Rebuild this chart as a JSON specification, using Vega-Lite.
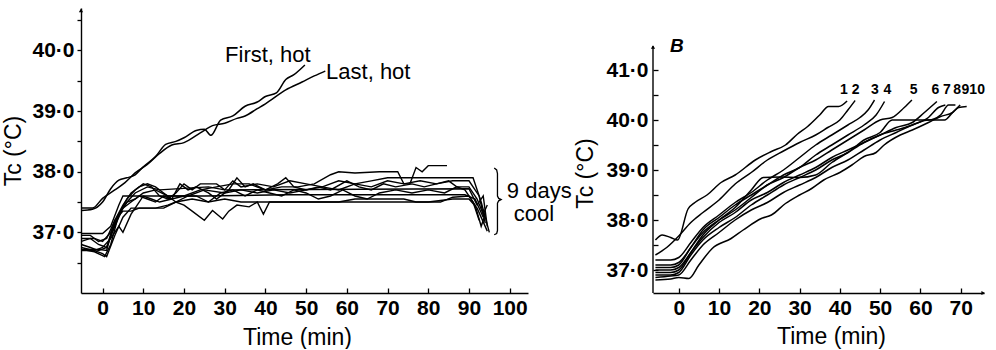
{
  "$schema": "https://vega.github.io/schema/vega-lite/v6.json",
  "padding": {"left": 2, "top": 8, "right": 0, "bottom": 0},
  "background": "white",
  "config": {
    "view": {"stroke": null},
    "font": "Liberation Sans",
    "axis": {"grid": false, "domainColor": "black", "domainWidth": 1.4, "tickColor": "black", "tickWidth": 1.3, "labelColor": "black", "labelFont": "Liberation Sans", "labelFontSize": 21, "labelFontWeight": "bold", "titleFont": "Liberation Sans", "titleFontSize": 23, "titleFontWeight": "normal", "titleColor": "black"},
    "concat": {"spacing": 125},
    "text": {"font": "Liberation Sans", "color": "black"}
  },
  "bounds": "flush",
  "datasets": {
    "hot": [
      {"s": "First", "t": -5.2, "y": 37.36}, {"s": "First", "t": -2.5, "y": 37.38}, {"s": "First", "t": 0, "y": 37.5}, {"s": "First", "t": 2, "y": 37.72}, {"s": "First", "t": 4, "y": 37.86}, {"s": "First", "t": 6, "y": 37.9}, {"s": "First", "t": 8, "y": 37.95}, {"s": "First", "t": 10, "y": 38.08}, {"s": "First", "t": 13, "y": 38.25}, {"s": "First", "t": 15.5, "y": 38.45}, {"s": "First", "t": 18, "y": 38.5}, {"s": "First", "t": 20, "y": 38.56}, {"s": "First", "t": 23, "y": 38.68}, {"s": "First", "t": 25, "y": 38.7}, {"s": "First", "t": 26.6, "y": 38.6}, {"s": "First", "t": 29, "y": 38.85}, {"s": "First", "t": 32, "y": 38.92}, {"s": "First", "t": 35, "y": 39.08}, {"s": "First", "t": 38, "y": 39.15}, {"s": "First", "t": 40, "y": 39.24}, {"s": "First", "t": 42.7, "y": 39.3}, {"s": "First", "t": 45, "y": 39.52}, {"s": "First", "t": 47, "y": 39.6}, {"s": "First", "t": 49.7, "y": 39.76},
      {"s": "Last", "t": -5.2, "y": 37.4}, {"s": "Last", "t": -2.5, "y": 37.4}, {"s": "Last", "t": 0, "y": 37.56}, {"s": "Last", "t": 3, "y": 37.7}, {"s": "Last", "t": 5.5, "y": 37.82}, {"s": "Last", "t": 8, "y": 37.98}, {"s": "Last", "t": 11, "y": 38.12}, {"s": "Last", "t": 14, "y": 38.3}, {"s": "Last", "t": 17, "y": 38.44}, {"s": "Last", "t": 20, "y": 38.48}, {"s": "Last", "t": 24, "y": 38.64}, {"s": "Last", "t": 27, "y": 38.76}, {"s": "Last", "t": 30, "y": 38.8}, {"s": "Last", "t": 33, "y": 38.88}, {"s": "Last", "t": 35, "y": 38.92}, {"s": "Last", "t": 38, "y": 39.04}, {"s": "Last", "t": 40, "y": 39.12}, {"s": "Last", "t": 45, "y": 39.35}, {"s": "Last", "t": 49, "y": 39.48}, {"s": "Last", "t": 52, "y": 39.58}, {"s": "Last", "t": 54.7, "y": 39.66}
    ],
    "cool": [
      {"s": "C1", "t": -5.2, "y": 36.98}, {"s": "C1", "t": -2, "y": 36.98}, {"s": "C1", "t": 0, "y": 36.98}, {"s": "C1", "t": 2, "y": 37.1}, {"s": "C1", "t": 4, "y": 37.45}, {"s": "C1", "t": 5, "y": 37.6}, {"s": "C1", "t": 25, "y": 37.6}, {"s": "C1", "t": 45, "y": 37.62}, {"s": "C1", "t": 70, "y": 37.62}, {"s": "C1", "t": 89, "y": 37.62}, {"s": "C1", "t": 91.5, "y": 37.55}, {"s": "C1", "t": 93.5, "y": 37.25},
      {"s": "C2", "t": -5.2, "y": 36.8}, {"s": "C2", "t": -3, "y": 36.75}, {"s": "C2", "t": -1, "y": 36.7}, {"s": "C2", "t": 1, "y": 36.75}, {"s": "C2", "t": 3, "y": 37.2}, {"s": "C2", "t": 5, "y": 37.35}, {"s": "C2", "t": 7, "y": 37.35}, {"s": "C2", "t": 9, "y": 37.4}, {"s": "C2", "t": 13, "y": 37.4}, {"s": "C2", "t": 16, "y": 37.45}, {"s": "C2", "t": 18, "y": 37.5}, {"s": "C2", "t": 20, "y": 37.45}, {"s": "C2", "t": 22, "y": 37.35}, {"s": "C2", "t": 25, "y": 37.2}, {"s": "C2", "t": 27, "y": 37.36}, {"s": "C2", "t": 29.5, "y": 37.22}, {"s": "C2", "t": 31, "y": 37.35}, {"s": "C2", "t": 33, "y": 37.45}, {"s": "C2", "t": 36, "y": 37.42}, {"s": "C2", "t": 38, "y": 37.5}, {"s": "C2", "t": 39.5, "y": 37.3}, {"s": "C2", "t": 41, "y": 37.5}, {"s": "C2", "t": 50, "y": 37.5}, {"s": "C2", "t": 60, "y": 37.5}, {"s": "C2", "t": 70, "y": 37.5}, {"s": "C2", "t": 80, "y": 37.5}, {"s": "C2", "t": 86, "y": 37.55}, {"s": "C2", "t": 90, "y": 37.55}, {"s": "C2", "t": 92, "y": 37.4}, {"s": "C2", "t": 94.5, "y": 37.02},
      {"s": "C3", "t": -5.2, "y": 36.72}, {"s": "C3", "t": -2, "y": 36.68}, {"s": "C3", "t": 0.5, "y": 36.6}, {"s": "C3", "t": 2, "y": 36.8}, {"s": "C3", "t": 4, "y": 37.3}, {"s": "C3", "t": 6, "y": 37.55}, {"s": "C3", "t": 8, "y": 37.7}, {"s": "C3", "t": 10, "y": 37.8}, {"s": "C3", "t": 12, "y": 37.75}, {"s": "C3", "t": 14, "y": 37.6}, {"s": "C3", "t": 16, "y": 37.55}, {"s": "C3", "t": 18, "y": 37.65}, {"s": "C3", "t": 20, "y": 37.8}, {"s": "C3", "t": 22, "y": 37.7}, {"s": "C3", "t": 24, "y": 37.8}, {"s": "C3", "t": 28, "y": 37.8}, {"s": "C3", "t": 30, "y": 37.7}, {"s": "C3", "t": 32, "y": 37.85}, {"s": "C3", "t": 34, "y": 37.75}, {"s": "C3", "t": 38, "y": 37.8}, {"s": "C3", "t": 42, "y": 37.75}, {"s": "C3", "t": 46, "y": 37.85}, {"s": "C3", "t": 50, "y": 37.8}, {"s": "C3", "t": 54, "y": 37.75}, {"s": "C3", "t": 58, "y": 37.85}, {"s": "C3", "t": 62, "y": 37.8}, {"s": "C3", "t": 66, "y": 37.75}, {"s": "C3", "t": 70, "y": 37.85}, {"s": "C3", "t": 74, "y": 37.8}, {"s": "C3", "t": 78, "y": 37.85}, {"s": "C3", "t": 82, "y": 37.8}, {"s": "C3", "t": 86, "y": 37.85}, {"s": "C3", "t": 90, "y": 37.85}, {"s": "C3", "t": 92.5, "y": 37.6}, {"s": "C3", "t": 94, "y": 37.15},
      {"s": "C4", "t": -5.2, "y": 36.9}, {"s": "C4", "t": -2, "y": 36.9}, {"s": "C4", "t": 0, "y": 36.85}, {"s": "C4", "t": 2, "y": 37.0}, {"s": "C4", "t": 4, "y": 37.3}, {"s": "C4", "t": 6, "y": 37.5}, {"s": "C4", "t": 8, "y": 37.55}, {"s": "C4", "t": 10, "y": 37.65}, {"s": "C4", "t": 13, "y": 37.7}, {"s": "C4", "t": 16, "y": 37.6}, {"s": "C4", "t": 20, "y": 37.6}, {"s": "C4", "t": 24, "y": 37.7}, {"s": "C4", "t": 28, "y": 37.75}, {"s": "C4", "t": 32, "y": 37.8}, {"s": "C4", "t": 36, "y": 37.8}, {"s": "C4", "t": 40, "y": 37.7}, {"s": "C4", "t": 44, "y": 37.75}, {"s": "C4", "t": 48, "y": 37.75}, {"s": "C4", "t": 52, "y": 37.8}, {"s": "C4", "t": 56, "y": 37.95}, {"s": "C4", "t": 58, "y": 38.0}, {"s": "C4", "t": 62, "y": 37.98}, {"s": "C4", "t": 68, "y": 38.0}, {"s": "C4", "t": 72.5, "y": 38.0}, {"s": "C4", "t": 74, "y": 37.8}, {"s": "C4", "t": 75.5, "y": 37.8}, {"s": "C4", "t": 77, "y": 38.07}, {"s": "C4", "t": 78.5, "y": 38.0}, {"s": "C4", "t": 80, "y": 38.1}, {"s": "C4", "t": 84.6, "y": 38.1},
      {"s": "C5", "t": -5.2, "y": 36.95}, {"s": "C5", "t": -3, "y": 36.95}, {"s": "C5", "t": -1, "y": 36.85}, {"s": "C5", "t": 1, "y": 36.9}, {"s": "C5", "t": 3, "y": 37.2}, {"s": "C5", "t": 5, "y": 37.45}, {"s": "C5", "t": 7, "y": 37.65}, {"s": "C5", "t": 9, "y": 37.75}, {"s": "C5", "t": 11, "y": 37.8}, {"s": "C5", "t": 13, "y": 37.75}, {"s": "C5", "t": 15, "y": 37.65}, {"s": "C5", "t": 18, "y": 37.5}, {"s": "C5", "t": 21, "y": 37.6}, {"s": "C5", "t": 25, "y": 37.7}, {"s": "C5", "t": 30, "y": 37.65}, {"s": "C5", "t": 34, "y": 37.7}, {"s": "C5", "t": 38, "y": 37.65}, {"s": "C5", "t": 42, "y": 37.7}, {"s": "C5", "t": 46, "y": 37.65}, {"s": "C5", "t": 50, "y": 37.7}, {"s": "C5", "t": 54, "y": 37.75}, {"s": "C5", "t": 58, "y": 37.7}, {"s": "C5", "t": 62, "y": 37.8}, {"s": "C5", "t": 66, "y": 37.85}, {"s": "C5", "t": 70, "y": 37.9}, {"s": "C5", "t": 80, "y": 37.9}, {"s": "C5", "t": 91, "y": 37.9}, {"s": "C5", "t": 93, "y": 37.5}, {"s": "C5", "t": 95, "y": 37.0},
      {"s": "C6", "t": -5.2, "y": 36.85}, {"s": "C6", "t": -3, "y": 36.9}, {"s": "C6", "t": -1, "y": 36.8}, {"s": "C6", "t": 1, "y": 36.75}, {"s": "C6", "t": 3, "y": 37.1}, {"s": "C6", "t": 5, "y": 37.4}, {"s": "C6", "t": 7, "y": 37.5}, {"s": "C6", "t": 9, "y": 37.6}, {"s": "C6", "t": 11, "y": 37.55}, {"s": "C6", "t": 13, "y": 37.5}, {"s": "C6", "t": 15, "y": 37.6}, {"s": "C6", "t": 17, "y": 37.55}, {"s": "C6", "t": 19, "y": 37.8}, {"s": "C6", "t": 21, "y": 37.7}, {"s": "C6", "t": 23, "y": 37.75}, {"s": "C6", "t": 26, "y": 37.65}, {"s": "C6", "t": 28, "y": 37.55}, {"s": "C6", "t": 31, "y": 37.7}, {"s": "C6", "t": 33, "y": 37.9}, {"s": "C6", "t": 35, "y": 37.75}, {"s": "C6", "t": 37, "y": 37.8}, {"s": "C6", "t": 40, "y": 37.7}, {"s": "C6", "t": 43, "y": 37.8}, {"s": "C6", "t": 45, "y": 37.9}, {"s": "C6", "t": 47, "y": 37.75}, {"s": "C6", "t": 50, "y": 37.7}, {"s": "C6", "t": 53, "y": 37.75}, {"s": "C6", "t": 56, "y": 37.7}, {"s": "C6", "t": 60, "y": 37.85}, {"s": "C6", "t": 63, "y": 37.75}, {"s": "C6", "t": 66, "y": 37.7}, {"s": "C6", "t": 69, "y": 37.8}, {"s": "C6", "t": 72, "y": 37.75}, {"s": "C6", "t": 76, "y": 37.8}, {"s": "C6", "t": 79, "y": 37.75}, {"s": "C6", "t": 82, "y": 37.8}, {"s": "C6", "t": 85, "y": 37.85}, {"s": "C6", "t": 87, "y": 37.75}, {"s": "C6", "t": 90, "y": 37.75}, {"s": "C6", "t": 92, "y": 37.55}, {"s": "C6", "t": 93.5, "y": 37.3}, {"s": "C6", "t": 94.5, "y": 37.45},
      {"s": "C7", "t": -5.2, "y": 36.7}, {"s": "C7", "t": -2, "y": 36.7}, {"s": "C7", "t": 0, "y": 36.75}, {"s": "C7", "t": 2, "y": 36.9}, {"s": "C7", "t": 4, "y": 37.1}, {"s": "C7", "t": 5, "y": 37.0}, {"s": "C7", "t": 7, "y": 37.3}, {"s": "C7", "t": 8.5, "y": 37.45}, {"s": "C7", "t": 10, "y": 37.6}, {"s": "C7", "t": 12, "y": 37.55}, {"s": "C7", "t": 14, "y": 37.5}, {"s": "C7", "t": 17, "y": 37.55}, {"s": "C7", "t": 20, "y": 37.6}, {"s": "C7", "t": 23, "y": 37.6}, {"s": "C7", "t": 26, "y": 37.5}, {"s": "C7", "t": 29, "y": 37.65}, {"s": "C7", "t": 32, "y": 37.7}, {"s": "C7", "t": 35, "y": 37.6}, {"s": "C7", "t": 38, "y": 37.7}, {"s": "C7", "t": 41, "y": 37.65}, {"s": "C7", "t": 44, "y": 37.6}, {"s": "C7", "t": 47, "y": 37.7}, {"s": "C7", "t": 50, "y": 37.65}, {"s": "C7", "t": 53, "y": 37.55}, {"s": "C7", "t": 56, "y": 37.6}, {"s": "C7", "t": 59, "y": 37.7}, {"s": "C7", "t": 62, "y": 37.6}, {"s": "C7", "t": 65, "y": 37.55}, {"s": "C7", "t": 68, "y": 37.65}, {"s": "C7", "t": 72, "y": 37.7}, {"s": "C7", "t": 76, "y": 37.65}, {"s": "C7", "t": 80, "y": 37.7}, {"s": "C7", "t": 84, "y": 37.65}, {"s": "C7", "t": 87, "y": 37.75}, {"s": "C7", "t": 89, "y": 37.7}, {"s": "C7", "t": 91, "y": 37.5}, {"s": "C7", "t": 92.5, "y": 37.2},
      {"s": "C8", "t": -5.2, "y": 36.75}, {"s": "C8", "t": -2, "y": 36.7}, {"s": "C8", "t": 0, "y": 36.65}, {"s": "C8", "t": 1, "y": 36.6}, {"s": "C8", "t": 3, "y": 36.95}, {"s": "C8", "t": 5, "y": 37.25}, {"s": "C8", "t": 7, "y": 37.4}, {"s": "C8", "t": 15, "y": 37.4}, {"s": "C8", "t": 18, "y": 37.5}, {"s": "C8", "t": 22, "y": 37.55}, {"s": "C8", "t": 26, "y": 37.5}, {"s": "C8", "t": 30, "y": 37.55}, {"s": "C8", "t": 34, "y": 37.5}, {"s": "C8", "t": 58, "y": 37.5}, {"s": "C8", "t": 62, "y": 37.55}, {"s": "C8", "t": 74, "y": 37.55}, {"s": "C8", "t": 77, "y": 37.5}, {"s": "C8", "t": 83, "y": 37.5}, {"s": "C8", "t": 86, "y": 37.58}, {"s": "C8", "t": 90, "y": 37.6}, {"s": "C8", "t": 91.5, "y": 37.45}, {"s": "C8", "t": 93, "y": 37.1}, {"s": "C8", "t": 94, "y": 37.3},
      {"s": "C9", "t": -5.2, "y": 36.72}, {"s": "C9", "t": -1, "y": 36.72}, {"s": "C9", "t": 1, "y": 36.7}, {"s": "C9", "t": 2, "y": 36.95}, {"s": "C9", "t": 4, "y": 37.3}, {"s": "C9", "t": 6, "y": 37.5}, {"s": "C9", "t": 8, "y": 37.65}, {"s": "C9", "t": 11, "y": 37.75}, {"s": "C9", "t": 14, "y": 37.7}, {"s": "C9", "t": 26, "y": 37.75}, {"s": "C9", "t": 30, "y": 37.7}, {"s": "C9", "t": 90, "y": 37.72}, {"s": "C9", "t": 92, "y": 37.45}, {"s": "C9", "t": 93.5, "y": 37.6}, {"s": "C9", "t": 94.5, "y": 37.1}
    ],
    "leftTextCenter": [
      {"label": "First, hot", "t": 40.6, "y": 39.93}
    ],
    "leftTextLeft": [
      {"label": "Last, hot", "t": 54.9, "y": 39.65},
      {"label": "9 days", "t": 99.3, "y": 37.69},
      {"label": "cool", "t": 101.0, "y": 37.31}
    ],
    "brace": [
      {"i": 1, "t": 96.2, "y": 38.06}, {"i": 2, "t": 96.8, "y": 38.03}, {"i": 3, "t": 97.0, "y": 37.97}, {"i": 4, "t": 97.0, "y": 37.6}, {"i": 5, "t": 97.3, "y": 37.56}, {"i": 6, "t": 97.9, "y": 37.54}, {"i": 7, "t": 97.3, "y": 37.52}, {"i": 8, "t": 97.0, "y": 37.48}, {"i": 9, "t": 97.0, "y": 37.03}, {"i": 10, "t": 96.8, "y": 36.98}, {"i": 11, "t": 96.2, "y": 36.96}
    ],
    "right": [
      {"s": "1", "t": -5.8, "y": 37.6}, {"s": "1", "t": -4.1, "y": 37.7}, {"s": "1", "t": -2, "y": 37.65}, {"s": "1", "t": -0.3, "y": 37.6}, {"s": "1", "t": 2.3, "y": 38.22}, {"s": "1", "t": 4, "y": 38.35}, {"s": "1", "t": 7, "y": 38.5}, {"s": "1", "t": 10.5, "y": 38.75}, {"s": "1", "t": 14, "y": 38.9}, {"s": "1", "t": 19, "y": 39.2}, {"s": "1", "t": 23, "y": 39.37}, {"s": "1", "t": 26.5, "y": 39.5}, {"s": "1", "t": 29.5, "y": 39.72}, {"s": "1", "t": 32, "y": 39.87}, {"s": "1", "t": 35, "y": 40.1}, {"s": "1", "t": 37.2, "y": 40.27}, {"s": "1", "t": 39.7, "y": 40.27}, {"s": "1", "t": 41.8, "y": 40.38},
      {"s": "2", "t": -5.8, "y": 37.3}, {"s": "2", "t": -3, "y": 37.45}, {"s": "2", "t": 0, "y": 37.68}, {"s": "2", "t": 3, "y": 37.95}, {"s": "2", "t": 6, "y": 38.15}, {"s": "2", "t": 10, "y": 38.4}, {"s": "2", "t": 14, "y": 38.72}, {"s": "2", "t": 18, "y": 38.95}, {"s": "2", "t": 22, "y": 39.2}, {"s": "2", "t": 26, "y": 39.38}, {"s": "2", "t": 30, "y": 39.55}, {"s": "2", "t": 34, "y": 39.7}, {"s": "2", "t": 37, "y": 39.85}, {"s": "2", "t": 40, "y": 40.0}, {"s": "2", "t": 42, "y": 40.2}, {"s": "2", "t": 43.8, "y": 40.39},
      {"s": "3", "t": -5.8, "y": 37.2}, {"s": "3", "t": -2, "y": 37.2}, {"s": "3", "t": 0, "y": 37.25}, {"s": "3", "t": 3, "y": 37.55}, {"s": "3", "t": 6, "y": 37.85}, {"s": "3", "t": 10, "y": 38.1}, {"s": "3", "t": 14, "y": 38.35}, {"s": "3", "t": 18, "y": 38.55}, {"s": "3", "t": 22, "y": 38.8}, {"s": "3", "t": 26, "y": 39.0}, {"s": "3", "t": 30, "y": 39.25}, {"s": "3", "t": 34, "y": 39.5}, {"s": "3", "t": 38, "y": 39.7}, {"s": "3", "t": 42, "y": 39.9}, {"s": "3", "t": 45, "y": 40.05}, {"s": "3", "t": 47, "y": 40.2}, {"s": "3", "t": 48.6, "y": 40.4},
      {"s": "4", "t": -5.8, "y": 37.1}, {"s": "4", "t": -2, "y": 37.1}, {"s": "4", "t": 0, "y": 37.15}, {"s": "4", "t": 3, "y": 37.45}, {"s": "4", "t": 6, "y": 37.8}, {"s": "4", "t": 10, "y": 38.05}, {"s": "4", "t": 14, "y": 38.3}, {"s": "4", "t": 18, "y": 38.5}, {"s": "4", "t": 22, "y": 38.7}, {"s": "4", "t": 26, "y": 38.9}, {"s": "4", "t": 30, "y": 39.05}, {"s": "4", "t": 34, "y": 39.3}, {"s": "4", "t": 38, "y": 39.5}, {"s": "4", "t": 42, "y": 39.7}, {"s": "4", "t": 46, "y": 39.9}, {"s": "4", "t": 49, "y": 40.1}, {"s": "4", "t": 51.1, "y": 40.37},
      {"s": "5", "t": -5.8, "y": 37.05}, {"s": "5", "t": -2, "y": 37.05}, {"s": "5", "t": 0, "y": 37.1}, {"s": "5", "t": 3, "y": 37.45}, {"s": "5", "t": 6, "y": 37.75}, {"s": "5", "t": 10, "y": 38.0}, {"s": "5", "t": 14, "y": 38.2}, {"s": "5", "t": 18, "y": 38.45}, {"s": "5", "t": 22, "y": 38.7}, {"s": "5", "t": 26, "y": 38.85}, {"s": "5", "t": 30, "y": 39.05}, {"s": "5", "t": 34, "y": 39.2}, {"s": "5", "t": 38, "y": 39.4}, {"s": "5", "t": 42, "y": 39.6}, {"s": "5", "t": 46, "y": 39.8}, {"s": "5", "t": 50, "y": 40.0}, {"s": "5", "t": 53, "y": 40.05}, {"s": "5", "t": 56, "y": 40.25}, {"s": "5", "t": 57.9, "y": 40.4},
      {"s": "6", "t": -5.8, "y": 37.0}, {"s": "6", "t": -2, "y": 37.0}, {"s": "6", "t": 0, "y": 37.05}, {"s": "6", "t": 3, "y": 37.35}, {"s": "6", "t": 6, "y": 37.65}, {"s": "6", "t": 10, "y": 37.95}, {"s": "6", "t": 14, "y": 38.15}, {"s": "6", "t": 18, "y": 38.4}, {"s": "6", "t": 22, "y": 38.55}, {"s": "6", "t": 26, "y": 38.75}, {"s": "6", "t": 30, "y": 38.9}, {"s": "6", "t": 34, "y": 39.05}, {"s": "6", "t": 38, "y": 39.25}, {"s": "6", "t": 42, "y": 39.4}, {"s": "6", "t": 46, "y": 39.55}, {"s": "6", "t": 50, "y": 39.7}, {"s": "6", "t": 54, "y": 39.85}, {"s": "6", "t": 58, "y": 39.95}, {"s": "6", "t": 61, "y": 40.15}, {"s": "6", "t": 64.1, "y": 40.37},
      {"s": "7", "t": -5.8, "y": 36.95}, {"s": "7", "t": -2, "y": 36.95}, {"s": "7", "t": 0, "y": 37.0}, {"s": "7", "t": 3, "y": 37.35}, {"s": "7", "t": 6, "y": 37.7}, {"s": "7", "t": 10, "y": 38.0}, {"s": "7", "t": 14, "y": 38.25}, {"s": "7", "t": 18, "y": 38.6}, {"s": "7", "t": 21, "y": 38.85}, {"s": "7", "t": 25, "y": 38.86}, {"s": "7", "t": 30, "y": 38.85}, {"s": "7", "t": 34, "y": 38.9}, {"s": "7", "t": 38, "y": 39.15}, {"s": "7", "t": 42, "y": 39.35}, {"s": "7", "t": 46, "y": 39.55}, {"s": "7", "t": 50, "y": 39.7}, {"s": "7", "t": 54, "y": 39.8}, {"s": "7", "t": 58, "y": 39.9}, {"s": "7", "t": 62, "y": 40.05}, {"s": "7", "t": 64.5, "y": 40.25}, {"s": "7", "t": 66.2, "y": 40.3},
      {"s": "8", "t": -5.8, "y": 36.9}, {"s": "8", "t": -2, "y": 36.9}, {"s": "8", "t": 0, "y": 36.95}, {"s": "8", "t": 3, "y": 37.3}, {"s": "8", "t": 6, "y": 37.6}, {"s": "8", "t": 10, "y": 37.85}, {"s": "8", "t": 14, "y": 38.05}, {"s": "8", "t": 18, "y": 38.3}, {"s": "8", "t": 22, "y": 38.5}, {"s": "8", "t": 26, "y": 38.7}, {"s": "8", "t": 30, "y": 38.85}, {"s": "8", "t": 34, "y": 39.0}, {"s": "8", "t": 38, "y": 39.2}, {"s": "8", "t": 42, "y": 39.35}, {"s": "8", "t": 46, "y": 39.6}, {"s": "8", "t": 50, "y": 39.75}, {"s": "8", "t": 53, "y": 40.0}, {"s": "8", "t": 58, "y": 40.0}, {"s": "8", "t": 62, "y": 40.0}, {"s": "8", "t": 65, "y": 40.1}, {"s": "8", "t": 67, "y": 40.3}, {"s": "8", "t": 68.7, "y": 40.3},
      {"s": "9", "t": -5.8, "y": 36.85}, {"s": "9", "t": -2, "y": 36.88}, {"s": "9", "t": 0, "y": 36.9}, {"s": "9", "t": 3, "y": 37.2}, {"s": "9", "t": 6, "y": 37.5}, {"s": "9", "t": 10, "y": 37.75}, {"s": "9", "t": 14, "y": 38.0}, {"s": "9", "t": 18, "y": 38.2}, {"s": "9", "t": 22, "y": 38.35}, {"s": "9", "t": 26, "y": 38.55}, {"s": "9", "t": 30, "y": 38.7}, {"s": "9", "t": 34, "y": 38.85}, {"s": "9", "t": 38, "y": 39.05}, {"s": "9", "t": 42, "y": 39.2}, {"s": "9", "t": 46, "y": 39.4}, {"s": "9", "t": 50, "y": 39.6}, {"s": "9", "t": 54, "y": 39.75}, {"s": "9", "t": 58, "y": 39.9}, {"s": "9", "t": 62, "y": 40.0}, {"s": "9", "t": 66, "y": 40.0}, {"s": "9", "t": 68, "y": 40.15}, {"s": "9", "t": 69.9, "y": 40.3},
      {"s": "10", "t": -5.8, "y": 36.8}, {"s": "10", "t": -2, "y": 36.82}, {"s": "10", "t": 0, "y": 36.85}, {"s": "10", "t": 2.5, "y": 36.83}, {"s": "10", "t": 5, "y": 37.1}, {"s": "10", "t": 8.3, "y": 37.43}, {"s": "10", "t": 13, "y": 37.63}, {"s": "10", "t": 16, "y": 37.8}, {"s": "10", "t": 20.5, "y": 38.03}, {"s": "10", "t": 23, "y": 38.1}, {"s": "10", "t": 26.5, "y": 38.33}, {"s": "10", "t": 30, "y": 38.5}, {"s": "10", "t": 33, "y": 38.63}, {"s": "10", "t": 36, "y": 38.8}, {"s": "10", "t": 40, "y": 38.95}, {"s": "10", "t": 43, "y": 39.1}, {"s": "10", "t": 46, "y": 39.27}, {"s": "10", "t": 49, "y": 39.35}, {"s": "10", "t": 51, "y": 39.5}, {"s": "10", "t": 55, "y": 39.7}, {"s": "10", "t": 58, "y": 39.8}, {"s": "10", "t": 62, "y": 39.95}, {"s": "10", "t": 65, "y": 40.07}, {"s": "10", "t": 68, "y": 40.15}, {"s": "10", "t": 69.5, "y": 40.25}, {"s": "10", "t": 71.5, "y": 40.27}
    ],
    "rightText": [
      {"label": "1", "t": 41.0, "y": 40.6}, {"label": "2", "t": 43.9, "y": 40.6}, {"label": "3", "t": 48.7, "y": 40.6}, {"label": "4", "t": 51.8, "y": 40.6}, {"label": "5", "t": 58.3, "y": 40.6}, {"label": "6", "t": 63.7, "y": 40.6}, {"label": "7", "t": 66.6, "y": 40.6}, {"label": "8", "t": 69.1, "y": 40.6}, {"label": "9", "t": 71.2, "y": 40.6}, {"label": "10", "t": 74.1, "y": 40.6}
    ],
    "panelB": [{"label": "B", "t": -0.5, "y": 41.49}],
    "leftArrow": [{"t": -5.3, "y": 40.66}],
    "rightYAxis": [{"t": -6.4, "y": 36.54, "y2": 41.48}],
    "rightArrows": [{"t": -6.4, "y": 41.46, "dir": "up"}, {"t": 75.6, "y": 36.54, "dir": "right"}]
  },
  "hconcat": [
    {
      "width": 447,
      "height": 285,
      "encoding": {
        "x": {"field": "t", "type": "quantitative", "scale": {"domain": [-5.3, 104.5], "nice": false, "zero": false},
          "axis": {"values": [0, 10, 20, 30, 40, 50, 60, 70, 80, 90, 100], "title": "Time (min)", "tickSize": -5, "labelPadding": 9, "titlePadding": 8, "titleX": 216, "labelFlush": false}},
        "y": {"field": "y", "type": "quantitative", "scale": {"domain": [36, 40.7], "nice": false, "zero": false},
          "axis": {"values": [36.5, 37, 37.5, 38, 38.5, 39, 39.5, 40, 40.5], "labelExpr": "datum.value % 1 == 0 ? replace(format(datum.value, '.1f'), '.', '·') : ''", "title": "Tc (°C)", "tickSize": 4, "labelPadding": 3, "titlePadding": 6, "labelFlush": false}}
      },
      "layer": [
        {"data": {"name": "hot"}, "mark": {"type": "line", "interpolate": "monotone", "color": "black", "strokeWidth": 1.5}, "encoding": {"detail": {"field": "s"}}},
        {"data": {"name": "cool"}, "mark": {"type": "line", "interpolate": "linear", "color": "black", "strokeWidth": 1.4}, "encoding": {"detail": {"field": "s"}}},
        {"data": {"name": "brace"}, "mark": {"type": "line", "interpolate": "linear", "color": "black", "strokeWidth": 1.3}, "encoding": {"order": {"field": "i", "type": "quantitative"}}},
        {"data": {"name": "leftTextCenter"}, "mark": {"type": "text", "fontSize": 22, "baseline": "middle", "align": "center"}, "encoding": {"text": {"field": "label"}}},
        {"data": {"name": "leftTextLeft"}, "mark": {"type": "text", "fontSize": 22, "baseline": "middle", "align": "left"}, "encoding": {"text": {"field": "label"}}},
        {"data": {"name": "leftArrow"}, "mark": {"type": "point", "shape": "triangle-up", "filled": true, "color": "black", "size": 18, "opacity": 1}, "encoding": {}}
      ]
    },
    {
      "width": 331,
      "height": 285,
      "encoding": {
        "x": {"field": "t", "type": "quantitative", "scale": {"domain": [-6.4, 75.8], "nice": false, "zero": false},
          "axis": {"values": [0, 10, 20, 30, 40, 50, 60, 70], "title": "Time (min)", "tickSize": -5, "labelPadding": 9, "titlePadding": 7, "titleX": 178, "labelFlush": false}},
        "y": {"field": "y", "type": "quantitative", "scale": {"domain": [36.54, 42.24], "nice": false, "zero": false},
          "axis": {"values": [37, 37.5, 38, 38.5, 39, 39.5, 40, 40.5, 41], "labelExpr": "datum.value % 1 == 0 ? replace(format(datum.value, '.1f'), '.', '·') : ''", "title": "Tc (°C)", "domain": false, "tickSize": -5, "labelPadding": 10, "titlePadding": 8, "titleY": 165, "labelFlush": false}}
      },
      "layer": [
        {"data": {"name": "right"}, "mark": {"type": "line", "interpolate": "monotone", "color": "black", "strokeWidth": 1.5}, "encoding": {"detail": {"field": "s"}}},
        {"data": {"name": "rightYAxis"}, "mark": {"type": "rule", "color": "black", "strokeWidth": 1.4}, "encoding": {"y2": {"field": "y2"}}},
        {"data": {"name": "rightText"}, "mark": {"type": "text", "fontSize": 14, "fontWeight": "bold", "baseline": "middle", "align": "center"}, "encoding": {"text": {"field": "label"}}},
        {"data": {"name": "panelB"}, "mark": {"type": "text", "fontSize": 19, "fontWeight": "bold", "fontStyle": "italic", "baseline": "middle", "align": "center"}, "encoding": {"text": {"field": "label"}}},
        {"data": {"name": "rightArrows"}, "mark": {"type": "point", "filled": true, "color": "black", "size": 18, "opacity": 1}, "encoding": {"shape": {"field": "dir", "type": "nominal", "scale": {"domain": ["up", "right"], "range": ["triangle-up", "triangle-right"]}, "legend": null}}}
      ]
    }
  ]
}
